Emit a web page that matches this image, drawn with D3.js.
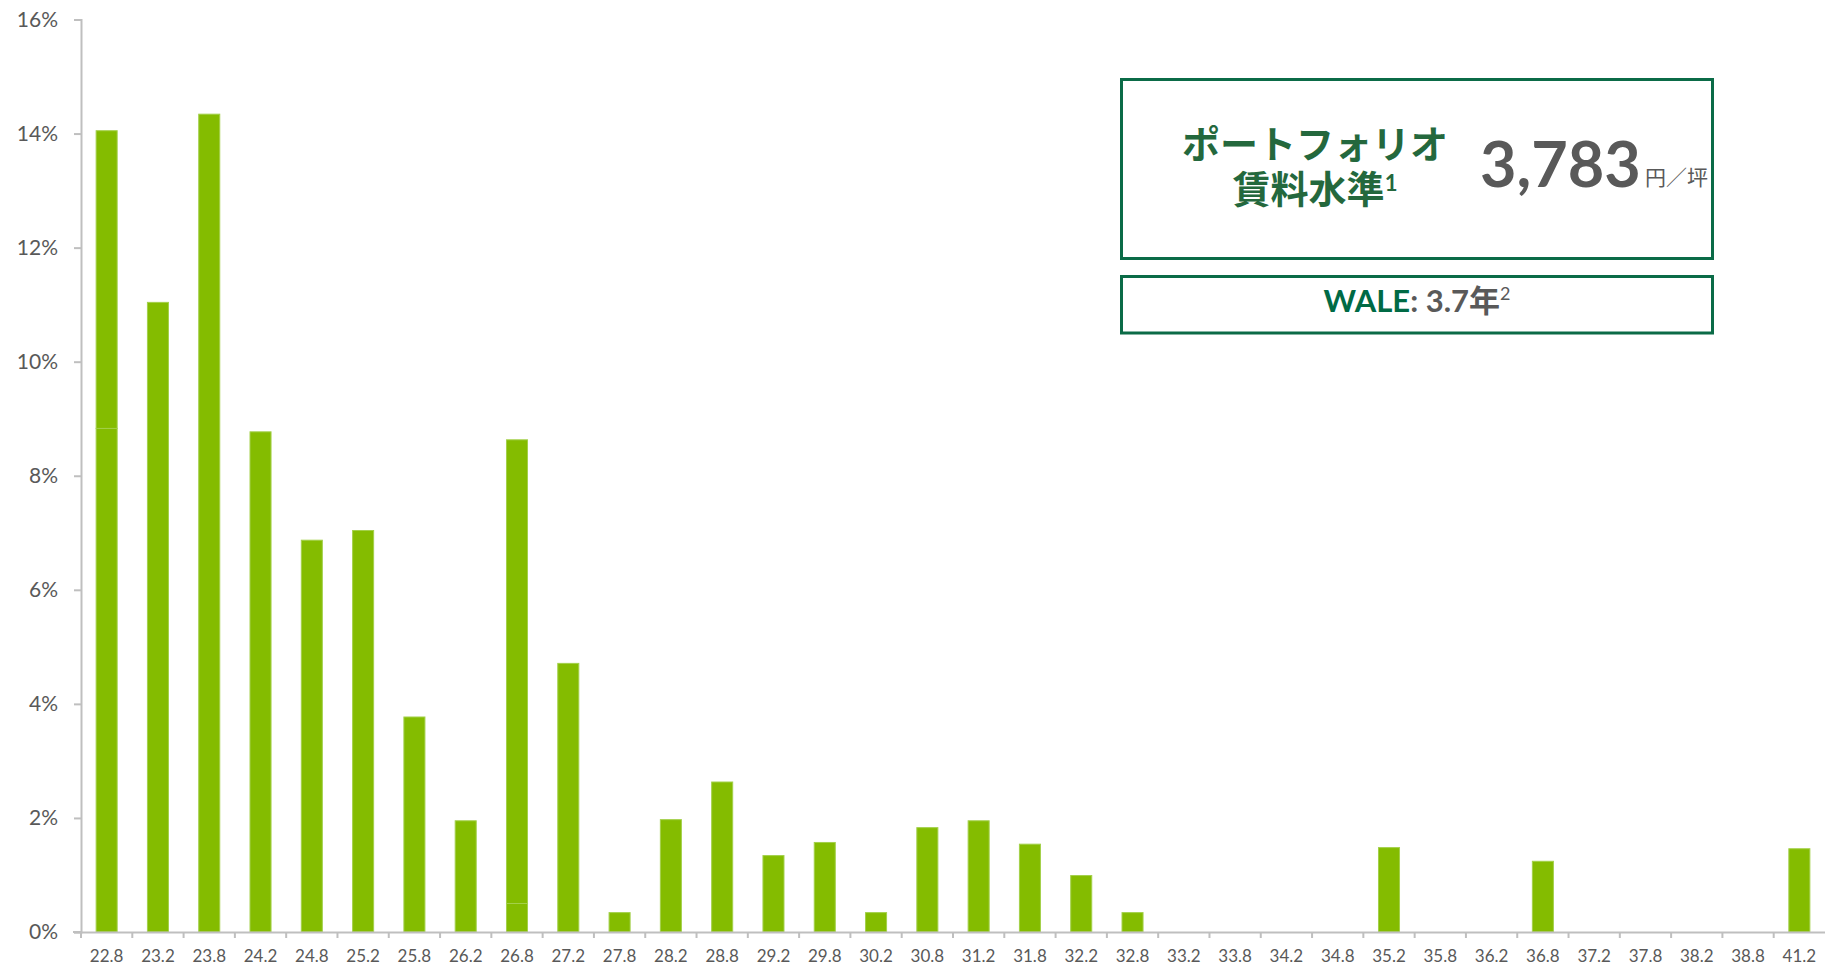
<!DOCTYPE html>
<html>
<head>
<meta charset="utf-8">
<script src="https://cdn.jsdelivr.net/npm/d3@7"></script>
<style>
  body { margin: 0; background: #fff; }
  .tick text { font-family: Lato, sans-serif; fill: #595959; }
  .jp { font-family: "Noto Sans CJK JP", sans-serif; }
</style>
</head>
<body>
<svg id="chart"></svg>
<script>
// rent buckets (千円/坪) and share of portfolio (%)
const categories = ['22.8', '23.2', '23.8', '24.2', '24.8', '25.2', '25.8', '26.2', '26.8', '27.2',
  '27.8', '28.2', '28.8', '29.2', '29.8', '30.2', '30.8', '31.2', '31.8', '32.2',
  '32.8', '33.2', '33.8', '34.2', '34.8', '35.2', '35.8', '36.2', '36.8', '37.2',
  '37.8', '38.2', '38.8', '41.2'];
// lower segment of each bar
const seriesA = [8.83, 11.04, 14.34, 8.77, 6.87, 7.04, 3.77, 1.95, 0.5, 4.71,
  0.34, 1.97, 2.63, 1.34, 1.57, 0.34, 1.83, 1.95, 1.54, 0.99,
  0.34, 0, 0, 0, 0, 1.48, 0, 0, 1.24, 0,
  0, 0, 0, 1.46];
// upper segment (same colour, only a faint seam shows)
const seriesB = [5.22, 0, 0, 0, 0, 0, 0, 0, 8.13, 0,
  0, 0, 0, 0, 0, 0, 0, 0, 0, 0,
  0, 0, 0, 0, 0, 0, 0, 0, 0, 0,
  0, 0, 0, 0];
const yTicks = [0, 2, 4, 6, 8, 10, 12, 14, 16];

const width = 1825, height = 966;
const margin = {left: 81, right: 0, top: 19.5, bottom: 34};

let svg = d3.select('#chart').attr('width', width).attr('height', height);

let x = d3.scaleBand()
    .domain(categories)
    .range([margin.left, width - margin.right])
    .paddingInner(0.59)
    .paddingOuter(0.295);

let y = d3.scaleLinear()
    .domain([0, 16])
    .range([height - margin.bottom, margin.top]);

let rows = categories.map(function(c, i) {
  return {cat: c, a: seriesA[i], b: seriesB[i]};
});

// bars
let bars = svg.append('g');
bars.selectAll('rect.a')
    .data(rows.filter(d => d.a > 0))
    .enter().append('rect')
    .attr('x', d => x(d.cat))
    .attr('width', x.bandwidth())
    .attr('y', d => y(d.a))
    .attr('height', d => y(0) - y(d.a))
    .attr('fill', '#84bc00')
    .attr('stroke', '#a3d04a')
    .attr('stroke-width', 1);
bars.selectAll('rect.b')
    .data(rows.filter(d => d.b > 0))
    .enter().append('rect')
    .attr('x', d => x(d.cat))
    .attr('width', x.bandwidth())
    .attr('y', d => y(d.a + d.b))
    .attr('height', d => y(d.a) - y(d.a + d.b))
    .attr('fill', '#84bc00')
    .attr('stroke', '#a3d04a')
    .attr('stroke-width', 1);

// y axis
let yAxis = svg.append('g')
    .attr('transform', `translate(${margin.left},0)`)
    .call(d3.axisLeft(y).tickValues(yTicks).tickSize(7).tickPadding(16).tickFormat(d => d + '%'));
yAxis.selectAll('.tick text').style('font-size', '21px');

// x axis with ticks between categories
let xAxis = svg.append('g')
    .attr('transform', `translate(0,${y(0)})`)
    .call(d3.axisBottom(x).tickSize(0).tickPadding(18));
xAxis.selectAll('.tick text').style('font-size', '17px');
xAxis.selectAll('.tick line').remove();
xAxis.selectAll('.bound')
    .data(categories)
    .enter().append('line')
    .attr('x1', d => x(d) - x.step() * x.paddingInner() / 2)
    .attr('x2', d => x(d) - x.step() * x.paddingInner() / 2)
    .attr('y1', 0).attr('y2', 6);
xAxis.append('line').attr('x1', margin.left - 8).attr('x2', margin.left).attr('y1', 0).attr('y2', 0);

svg.selectAll('.domain, line').filter(function() { return this.parentNode !== bars.node(); })
    .attr('stroke', '#bfbfbf')
    .attr('stroke-width', 2);

// info boxes
let info = svg.append('g');
info.append('rect')
    .attr('x', 1121.5).attr('y', 79.5).attr('width', 591).attr('height', 179)
    .attr('fill', 'none').attr('stroke', '#0b6b47').attr('stroke-width', 3);
info.append('rect')
    .attr('x', 1121.5).attr('y', 276.5).attr('width', 591).attr('height', 56.5)
    .attr('fill', 'none').attr('stroke', '#0b6b47').attr('stroke-width', 3);

info.append('text').attr('class', 'jp')
    .attr('x', 1315).attr('y', 158)
    .attr('text-anchor', 'middle')
    .style('font-size', '38px').style('font-weight', 700).style('fill', '#24683d')
    .text('ポートフォリオ');
let l2 = info.append('text').attr('class', 'jp')
    .attr('x', 1315).attr('y', 203)
    .attr('text-anchor', 'middle')
    .style('font-size', '38px').style('font-weight', 700).style('fill', '#24683d');
l2.append('tspan').text('賃料水準');
l2.append('tspan').attr('dy', -12).style('font-size', '22px').style('font-family', 'Lato, sans-serif').text('1');

info.append('text')
    .attr('x', 1480).attr('y', 187)
    .style('font-family', 'Lato, sans-serif').style('font-size', '63px').style('font-weight', 700)
    .style('fill', '#595959')
    .text('3,783');
info.append('text').attr('class', 'jp')
    .attr('x', 1645).attr('y', 185)
    .style('font-size', '21px').style('fill', '#595959')
    .text('円／坪');

let wale = info.append('text')
    .attr('x', 1417).attr('y', 312)
    .attr('text-anchor', 'middle')
    .style('font-family', 'Lato, sans-serif').style('font-size', '31px').style('font-weight', 700);
wale.append('tspan').style('fill', '#006a45').text('WALE');
wale.append('tspan').style('fill', '#595959').text(': 3.7');
wale.append('tspan').attr('class', 'jp').style('fill', '#595959').text('年');
wale.append('tspan').attr('dy', -12).style('fill', '#595959').style('font-size', '18px').style('font-weight', 400).text('2');
</script>
</body>
</html>
